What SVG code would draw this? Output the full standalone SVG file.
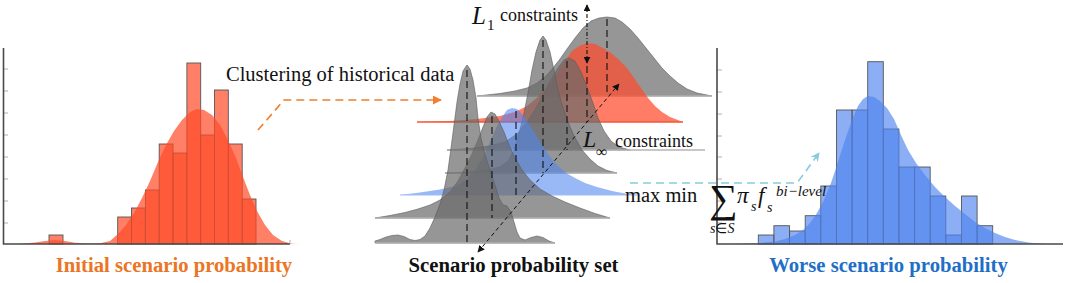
<svg xmlns="http://www.w3.org/2000/svg" width="1065" height="283" viewBox="0 0 1065 283">
<defs>
<marker id="ah" viewBox="0 0 10 10" refX="9" refY="5" markerWidth="7" markerHeight="7" orient="auto-start-reverse" markerUnits="userSpaceOnUse"><path d="M0,0 L10,5 L0,10 Z" fill="#111"/></marker>
<marker id="ahO" viewBox="0 0 10 10" refX="9" refY="5" markerWidth="9" markerHeight="9" orient="auto" markerUnits="userSpaceOnUse"><path d="M0,0 L10,5 L0,10 Z" fill="#F07F2E"/></marker>
<marker id="ahC" viewBox="0 0 10 10" refX="9" refY="5" markerWidth="9" markerHeight="9" orient="auto" markerUnits="userSpaceOnUse"><path d="M0,0 L10,5 L0,10 L3,5 Z" fill="#86CBDD"/></marker>
</defs>
<style>
text{font-family:'Liberation Serif','Times New Roman',serif;}
.title{font-size:20.7px;font-weight:bold;text-anchor:middle;}
.axis{stroke:#4a4a4a;stroke-width:1.6;fill:none;}
.tick{stroke:#b0b0b0;stroke-width:1;}
.barO{fill:#FF4A26;fill-opacity:0.7;stroke:#555;stroke-width:0.9;}
.curO{fill:#FF4A26;fill-opacity:0.7;stroke:none;}
.barB{fill:#4F82EE;fill-opacity:0.65;stroke:#555;stroke-width:0.9;}
.curB{fill:#4F82EE;fill-opacity:0.65;stroke:none;}
.rg{fill:#6a6a6a;fill-opacity:0.7;stroke:#5a5a5a;stroke-width:0.6;}
.rr{fill:#FF4B2B;fill-opacity:0.72;stroke:none;}
.rb{fill:#4F84F0;fill-opacity:0.58;stroke:none;}
.base{stroke:#b4b4b4;stroke-width:1.5;}
.mean{stroke:#111;stroke-width:1.1;stroke-dasharray:7 4;}
.lbl{font-size:20.5px;fill:#111;}
.cons{font-size:18px;fill:#111;}
.mi{font-style:italic;fill:#111;}
</style>

<g id="initial-histogram">
<line class="tick" x1="3" y1="69" x2="8" y2="69"/><line class="tick" x1="3" y1="91" x2="8" y2="91"/><line class="tick" x1="3" y1="113" x2="8" y2="113"/><line class="tick" x1="3" y1="135" x2="8" y2="135"/><line class="tick" x1="3" y1="157" x2="8" y2="157"/><line class="tick" x1="3" y1="179" x2="8" y2="179"/><line class="tick" x1="3" y1="201" x2="8" y2="201"/><line class="tick" x1="3" y1="223" x2="8" y2="223"/>
<rect class="barO" x="49" y="235" width="14" height="9"/>
<rect class="barO" x="117.7" y="217" width="13.8" height="27"/>
<rect class="barO" x="131.5" y="208" width="13.8" height="36"/>
<rect class="barO" x="145.4" y="190" width="13.8" height="54"/>
<rect class="barO" x="159.2" y="144" width="13.8" height="100"/>
<rect class="barO" x="173.0" y="153" width="13.8" height="91"/>
<rect class="barO" x="186.9" y="63" width="13.8" height="181"/>
<rect class="barO" x="200.7" y="135" width="13.8" height="109"/>
<rect class="barO" x="214.5" y="90" width="13.8" height="154"/>
<rect class="barO" x="228.4" y="144" width="13.8" height="100"/>
<rect class="barO" x="242.2" y="199" width="13.8" height="45"/>
<path class="curO" d="M0,244 L20,243.7 L35,242.5 L45,241 L55,240 L65,241 L75,242.8 L90,243.6 L100,243.3 L110,241 L118,234 L126,225 L134,213 L142,198 L150,181 L158,162 L166,145 L174,131 L182,120 L190,112 L197,109 L204,110 L212,115 L220,125 L228,140 L236,158 L243,177 L250,195 L257,211 L265,225 L273,235 L282,241 L292,243.7 L300,244 Z"/>
<path class="axis" d="M3.5,48 V244 H290"/>
<line class="tick" x1="290" y1="244" x2="290" y2="240"/>
</g>

<g id="scenario-set">
<path class="rg" d="M477,96 L500,93.5 L515,91 L527,88 L537,83 L546,76 L553,68 L560,59 L567,49 L575,38 L583,28 L591,21 L599,18 L607,17 L615,18 L622,22 L630,29 L638,38 L646,48 L654,58 L662,68 L670,76 L678,83 L687,89 L697,93 L712,96 Z"/>
<line class="base" x1="477" y1="96" x2="712" y2="96"/>
<path class="rr" d="M417,122 L450,121 L477,119 L500,116 L515,112 L527,106 L538,97 L548,86 L557,73 L565,61 L572,51 L579,46 L587,43 L595,44 L603,48 L611,53 L619,60 L627,68 L634,78 L641,88 L648,98 L655,106 L662,112 L670,117 L683,122 Z"/>
<line x1="417" y1="122" x2="683" y2="122" stroke="#F2573A" stroke-width="1.5"/>
<path class="rg" d="M447,150 L470,148.5 L490,146 L505,142 L517,134 L527,122 L536,108 L544,93 L551,80 L558,68 L564,60 L569,58 L575,61 L581,72 L587,87 L593,103 L598,118 L604,131 L611,141 L619,147 L630,150 Z"/>
<line class="base" x1="447" y1="150" x2="705" y2="150"/>
<path class="rg" d="M445,173 L470,172 L488,170 L500,167 L508,161 L514,150 L519,134 L524,113 L528,93 L532,70 L536,52 L540,40 L543,36 L546,40 L550,52 L554,70 L558,90 L563,108 L568,122 L574,136 L582,150 L590,159 L598,166 L607,170.5 L617,173 Z"/>
<line class="base" x1="445" y1="173" x2="617" y2="173"/>
<path class="rb" d="M400,195 L420,192.5 L440,189.5 L455,186 L466,180 L475,170 L483,157 L490,142 L496,128 L502,117 L507,110 L512,108 L517,109 L523,115 L530,125 L537,137 L544,148 L551,158 L558,166 L566,173 L575,178 L585,183 L597,187 L612,191 L625,193.5 L640,195 Z"/>
<line x1="400" y1="195" x2="640" y2="195" stroke="#9DBBF5" stroke-width="1.2"/>
<path class="rg" d="M375,218 L390,215.5 L405,212.5 L418,209 L430,205 L440,200 L450,192 L458,181 L465,168 L472,154 L478,140 L483,127 L487,117 L491,112 L495,114 L499,121 L504,132 L509,145 L515,158 L522,170 L530,180 L540,189 L552,196 L565,202 L580,208 L595,213.5 L610,218 Z"/>
<line class="base" x1="375" y1="218" x2="610" y2="218"/>
<path class="rg" d="M375,241 L380,239.5 L386,237 L392,235.5 L398,235 L404,236.5 L410,239.5 L415,240.5 L420,239.5 L425,236 L430,228 L435,217 L440,204 L444,190 L448,170 L451,148 L454,125 L457,102 L460,84 L463,71 L467,65 L470,69 L473,80 L476,98 L478,118 L481,138 L485,155 L490,170 L495,185 L499,198 L503,205 L507,206 L511,212 L514,222 L517,232 L520,238 L525,240 L531,237.5 L537,236 L543,237.5 L549,241 L555,243 L375,243 Z"/>
<line class="base" x1="375" y1="243" x2="555" y2="243"/>
<line class="mean" x1="467" y1="70" x2="467" y2="243"/>
<line class="mean" x1="492" y1="116" x2="492" y2="218"/>
<line class="mean" x1="516" y1="111" x2="516" y2="195"/>
<line class="mean" x1="543" y1="40" x2="543" y2="173"/>
<line class="mean" x1="567" y1="61" x2="567" y2="150"/>
<line class="mean" x1="587" y1="66" x2="587" y2="122"/>
<line class="mean" x1="607" y1="19" x2="607" y2="96"/>
<line x1="587" y1="5" x2="587" y2="63" stroke="#111" stroke-width="1.1" stroke-dasharray="4 2 1 2" marker-start="url(#ah)" marker-end="url(#ah)"/>
<line x1="478" y1="252" x2="619" y2="84" stroke="#111" stroke-width="1" stroke-dasharray="4 3" marker-start="url(#ah)" marker-end="url(#ah)"/>
<text x="472" y="24" class="mi" font-size="25">L</text><text x="487" y="30" font-size="15" fill="#111">1</text>
<text x="500" y="21" class="cons">constraints</text>
<text x="583" y="147" class="mi" font-size="24">L</text><text x="596" y="157" font-size="16" fill="#111">∞</text>
<text x="615" y="147" class="cons">constraints</text>
</g>

<g id="worse-histogram">
<line class="tick" x1="717" y1="70" x2="722" y2="70"/><line class="tick" x1="717" y1="92" x2="722" y2="92"/><line class="tick" x1="717" y1="114" x2="722" y2="114"/><line class="tick" x1="717" y1="136" x2="722" y2="136"/><line class="tick" x1="717" y1="157" x2="722" y2="157"/><line class="tick" x1="717" y1="179" x2="722" y2="179"/><line class="tick" x1="717" y1="201" x2="722" y2="201"/><line class="tick" x1="717" y1="223" x2="722" y2="223"/>
<rect class="barB" x="758.3" y="235" width="15.6" height="9"/>
<rect class="barB" x="773.9" y="225.7" width="15.6" height="18.3"/>
<rect class="barB" x="789.6" y="231" width="15.6" height="13"/>
<rect class="barB" x="805.2" y="215.7" width="15.6" height="28.3"/>
<rect class="barB" x="820.8" y="186" width="15.6" height="58"/>
<rect class="barB" x="836.5" y="110" width="15.6" height="134"/>
<rect class="barB" x="852.1" y="110" width="15.6" height="134"/>
<rect class="barB" x="867.7" y="61.7" width="15.6" height="182.3"/>
<rect class="barB" x="883.3" y="129" width="15.6" height="115"/>
<rect class="barB" x="899.0" y="167" width="15.6" height="77"/>
<rect class="barB" x="914.6" y="167" width="15.6" height="77"/>
<rect class="barB" x="930.2" y="196" width="15.6" height="48"/>
<rect class="barB" x="945.8" y="235" width="15.6" height="9"/>
<rect class="barB" x="961.5" y="196" width="15.6" height="48"/>
<rect class="barB" x="977.1" y="225.7" width="15.6" height="18.3"/>
<path class="curB" d="M717,244 L740,243.8 L760,243 L775,241.5 L785,239 L795,235 L803,230 L810,223 L817,213 L824,200 L831,183 L838,162 L845,140 L852,120 L858,106 L863,99 L868,96 L874,97 L880,101 L887,108 L894,119 L901,135 L908,150 L916,163 L925,175 L935,187 L945,197 L955,206 L965,214 L975,222 L985,228 L995,233 L1005,237 L1015,240 L1030,242.8 L1045,243.8 L1055,244 Z"/>
<path class="axis" d="M717,48 V244 H1063"/>
</g>

<g id="objective">
<text x="625" y="202" class="lbl">max min</text>
<text x="709" y="212" font-size="40" fill="#111">∑</text>
<text x="710" y="233" class="mi" font-size="14">s<tspan font-style="normal">∈</tspan>S</text>
<text x="737" y="203" class="mi" font-size="23">π</text><text x="751" y="211" class="mi" font-size="14">s</text>
<text x="758" y="203" class="mi" font-size="23">f</text><text x="767" y="212" class="mi" font-size="14">s</text>
<text x="776" y="196" class="mi" font-size="15">bi−level</text>
</g>

<g id="labels">
<text x="174" y="272" class="title" fill="#EB7524">Initial scenario probability</text>
<text x="513.5" y="272" class="title" fill="#111">Scenario probability set</text>
<text x="888.5" y="272" class="title" fill="#1F6FC6">Worse scenario probability</text>
<text x="226" y="81" class="lbl">Clustering of historical data</text>
</g>

<g id="connectors">
<path d="M258,130 L284,100 L441,100" fill="none" stroke="#F07F2E" stroke-width="1.6" stroke-dasharray="8 5" marker-end="url(#ahO)"/>
<path d="M630,183 L797,183 L819,153" fill="none" stroke="#86CBDD" stroke-width="1.6" stroke-dasharray="8 5" marker-end="url(#ahC)"/>
</g>
</svg>
